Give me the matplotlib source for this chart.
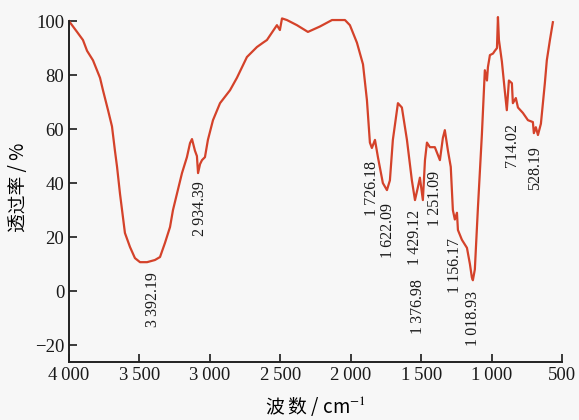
import numpy as np
import matplotlib
matplotlib.use("Agg")
import matplotlib.pyplot as plt
from matplotlib.ticker import FuncFormatter

# FTIR spectrum (wavenumber in cm-1, transmittance in %)
wavenumber = [
    4000, 3943, 3901, 3872, 3830, 3780, 3759, 3723, 3695, 3674, 3659, 3638,
    3603, 3567, 3532, 3496, 3446, 3390, 3354, 3319, 3283, 3262, 3234, 3198,
    3163, 3141, 3127, 3106, 3092, 3084, 3070, 3056, 3035, 3014, 2978, 2928,
    2857, 2808, 2737, 2666, 2623, 2595, 2524, 2503, 2488, 2453, 2382, 2304,
    2219, 2133, 2041, 2006, 1956, 1913, 1885, 1864, 1850, 1828, 1807, 1772,
    1743, 1722, 1701, 1665, 1637, 1601, 1566, 1544, 1523, 1509, 1488, 1473,
    1459, 1438, 1403, 1367, 1346, 1332, 1310, 1290, 1275, 1261, 1246, 1239,
    1211, 1175, 1154, 1140, 1133, 1119, 1097, 1069, 1048, 1033, 1026, 1012,
    990, 977, 962, 955, 948, 927, 906, 892, 877, 856, 849, 828, 813, 778,
    742, 707, 700, 686, 671, 650, 622, 608, 586, 565,
]
transmittance = [
    100, 96, 93, 89, 85.5, 79, 74.4, 67, 61, 52, 46, 36,
    21.5, 16.3, 12.2, 10.7, 10.7, 11.5, 12.6, 17.8, 23.7, 30, 36, 43.7,
    49.6, 54.8, 56.3, 52, 50, 43.7, 47, 48.5, 49.6, 56, 63.3, 69.6,
    74.4, 79, 86.7, 90.4, 92, 93, 98.5, 96.7, 101, 100.4, 98.5, 96,
    98, 100.4, 100.4, 98.5, 92, 84, 70.7, 55, 53, 56, 49.6, 40,
    37.4, 41, 56, 69.6, 68, 56, 41, 33.7, 38.5, 42, 33.7, 48.5,
    55, 53.3, 53.3, 48.5, 56.7, 59.6, 52, 46, 30, 26.5, 29, 22.6,
    19, 16, 10, 5, 4, 8, 31, 58, 81.8, 78, 83, 87.4,
    88, 89, 90, 101.5, 93, 85, 74, 67, 78, 77, 69.6, 71.5, 68, 66,
    63.3, 62.6, 58.5, 60.7, 57.8, 62, 77, 85.5, 93, 99.6,
]

# peak labels and where they sit in the picture
peak_labels = ["3\u2009392.19", "2\u2009934.39", "1\u2009726.18", "1\u2009622.09",
               "1\u2009429.12", "1\u2009376.98", "1\u2009251.09", "1\u2009156.17",
               "1\u2009018.93", "714.02", "528.19"]
peak_x = [3404, 3070, 1850, 1736, 1544, 1523, 1402, 1261, 1133, 856, 693]
peak_y = [-3.3, 30.7, 38.1, 22.6, 20, -5.6, 34.4, 9.6, -10, 54, 45.6]

xticks = [4000, 3500, 3000, 2500, 2000, 1500, 1000, 500]
yticks = [-20, 0, 20, 40, 60, 80, 100]

serif = ["Liberation Serif", "DejaVu Serif"]
cjk = ["Noto Sans CJK SC", "DejaVu Sans"]
plt.rcParams["mathtext.fontset"] = "stix"

fig = plt.figure(figsize=(5.79, 4.2), dpi=100, facecolor="#f7f7f7")
ax = fig.add_axes([0.1192, 0.138, 0.8515, 0.831])
ax.set_facecolor("none")

ax.plot(wavenumber, transmittance, color="#d4422a", lw=1.6, solid_joinstyle="round")

for lab, x, y in zip(peak_labels, peak_x, peak_y):
    ax.text(x, y, lab, rotation=90, ha="center", va="center",
            fontsize=11.5, family=serif, color="#1a1a1a")

ax.set_xlim(4000, 500)
ax.set_ylim(-26.3, 103)
ax.set_xticks(xticks)
ax.set_yticks(yticks)
ax.xaxis.set_major_formatter(FuncFormatter(lambda v, p: f"{int(v):,}".replace(",", "\u2009")))
ax.yaxis.set_major_formatter(FuncFormatter(lambda v, p: f"{int(v)}".replace("-", "\u2212")))
ax.tick_params(direction="in", length=6, width=1.2, colors="#1a1a1a", labelsize=13.5)
for lab in ax.get_xticklabels() + ax.get_yticklabels():
    lab.set_family(serif)

for side in ["top", "right"]:
    ax.spines[side].set_visible(False)
for side in ["left", "bottom"]:
    ax.spines[side].set_linewidth(1.4)
    ax.spines[side].set_color("#222222")
ax.spines["left"].set_bounds(-26.3, 100)

ax.set_xlabel(r"波 数 / cm$^{-1}$", family=cjk, fontsize=13.5, labelpad=7)
ax.set_ylabel("透过率 / %", family=cjk, fontsize=13.5, labelpad=4)

fig.savefig("out.png", dpi=100, facecolor=fig.get_facecolor())
